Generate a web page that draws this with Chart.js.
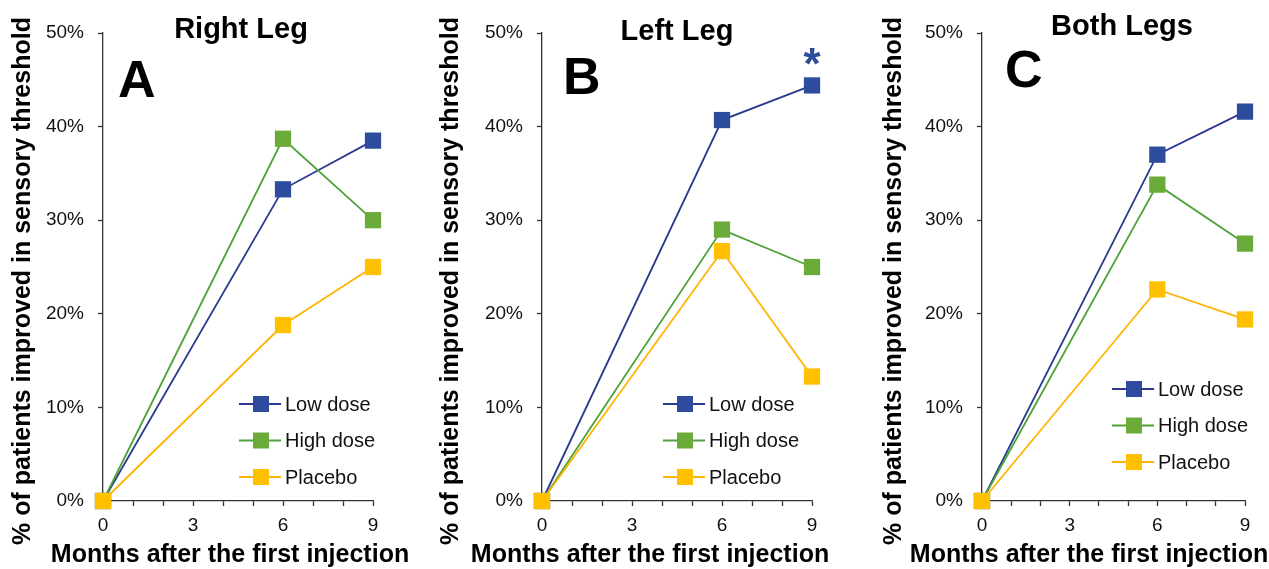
<!DOCTYPE html>
<html>
<head>
<meta charset="utf-8">
<script src="https://cdn.jsdelivr.net/npm/chart.js@4.4.0/dist/chart.umd.min.js"></script>
<style>
  html, body { margin: 0; padding: 0; background: #fff; }
  #wrap { position: relative; width: 1269px; height: 569px; overflow: hidden; }
  canvas { position: absolute; top: 0; }
</style>
</head>
<body>
<div id="wrap">
  <canvas id="chart-a" width="423" height="569" style="left:0"></canvas>
  <canvas id="chart-b" width="423" height="569" style="left:423px"></canvas>
  <canvas id="chart-c" width="423" height="569" style="left:846px"></canvas>
</div>
<script>
// data (% of patients improved)
const months = [0, 6, 9]
const seriesNames = ['Low dose', 'High dose', 'Placebo']

const rightLow = [0, 33.3, 38.5]
const rightHigh = [0, 38.7, 30.0]
const rightPlacebo = [0, 18.8, 25.0]

const leftLow = [0, 40.7, 44.4]
const leftHigh = [0, 29.0, 25.0]
const leftPlacebo = [0, 26.7, 13.3]

const bothLow = [0, 37.0, 41.6]
const bothHigh = [0, 33.8, 27.5]
const bothPlacebo = [0, 22.6, 19.4]

const xTickStep = 3
const yMax = 50

const yTitle = '% of patients improved in sensory threshold'
const xTitle = 'Months after the first injection'

const FONT = '"Liberation Sans", Arial, sans-serif'
const lineColors = ['#2B3A8F', '#4FA23A', '#FFB400']
const markColors = ['#2E4C9E', '#6AAB3A', '#FFC000']

//? draws titles, panel letter, legend and star on top of the chart
const panelText = {
    id: 'panelText',
    afterDraw(chart, args, o) {
        const ctx = chart.ctx
        ctx.save()
        ctx.fillStyle = '#000'

        ctx.font = 'bold 29px ' + FONT
        ctx.textAlign = 'center'
        ctx.textBaseline = 'alphabetic'
        ctx.fillText(o.title, o.titleX, o.titleY)

        ctx.font = 'bold 52px ' + FONT
        ctx.textAlign = 'left'
        ctx.fillText(o.letter, o.letterX, o.letterY)

        ctx.font = 'bold 25px ' + FONT
        ctx.textAlign = 'center'
        ctx.textBaseline = 'middle'
        ctx.fillText(xTitle, o.xTitleX, 555)

        ctx.save()
        ctx.translate(o.yTitleX, 281)
        ctx.rotate(-Math.PI / 2)
        ctx.fillText(yTitle, 0, 0)
        ctx.restore()

        // legend
        chart.data.datasets.forEach((ds, i) => {
            const y = o.legendY + i * 36.5
            ctx.strokeStyle = ds.borderColor
            ctx.lineWidth = 2
            ctx.beginPath()
            ctx.moveTo(o.legendX, y)
            ctx.lineTo(o.legendX + 42, y)
            ctx.stroke()
            ctx.fillStyle = ds.pointBackgroundColor
            ctx.fillRect(o.legendX + 14, y - 8, 16, 16)
            ctx.fillStyle = '#111'
            ctx.font = '20px ' + FONT
            ctx.textAlign = 'left'
            ctx.textBaseline = 'middle'
            ctx.fillText(ds.label, o.legendX + 46, y + 1)
        })

        if (o.star) {
            const xs = chart.scales.x
            ctx.fillStyle = markColors[0]
            ctx.font = 'bold 44px ' + FONT
            ctx.textAlign = 'center'
            ctx.textBaseline = 'alphabetic'
            ctx.fillText('*', xs.getPixelForValue(9), 79)
        }
        ctx.restore()
    }
}

function makeDatasets(low, high, placebo) {
    return [low, high, placebo].map((vals, i) => ({
        label: seriesNames[i],
        data: months.map((m, j) => ({ x: m, y: vals[j] })),
        borderColor: lineColors[i],
        borderWidth: 1.8,
        pointStyle: 'rect',
        pointRadius: 11.5,
        pointHoverRadius: 11.5,
        pointBackgroundColor: markColors[i],
        pointBorderColor: markColors[i],
        pointBorderWidth: 0,
        order: 3 - i,
        clip: false
    }))
}

function makeChart(id, datasets, axisLeft, plotRight, text) {
    return new Chart(document.getElementById(id), {
        type: 'line',
        data: { datasets: datasets },
        options: {
            responsive: false,
            animation: false,
            layout: { padding: { left: 0, right: 423 - plotRight, top: 33, bottom: 0 } },
            plugins: {
                legend: { display: false },
                tooltip: { enabled: false },
                panelText: text
            },
            scales: {
                x: {
                    type: 'linear',
                    min: 0,
                    max: 9,
                    afterFit: s => { s.height = 68 },
                    border: { color: '#333', width: 1.3 },
                    grid: { drawOnChartArea: false, tickLength: 5, color: '#333', tickWidth: 1.3 },
                    ticks: {
                        stepSize: 1,
                        autoSkip: false,
                        maxRotation: 0,
                        padding: 8,
                        color: '#111',
                        font: { family: FONT, size: 19 },
                        callback: v => (v % xTickStep === 0 ? v : '')
                    }
                },
                y: {
                    min: 0,
                    max: yMax,
                    afterFit: s => { s.width = axisLeft },
                    border: { color: '#333', width: 1.3 },
                    grid: { drawOnChartArea: false, tickLength: 5, color: '#333', tickWidth: 1.3 },
                    ticks: {
                        stepSize: 10,
                        padding: 14,
                        color: '#111',
                        font: { family: FONT, size: 19 },
                        callback: v => v + '%'
                    }
                }
            }
        },
        plugins: [panelText]
    })
}

const chartA = makeChart('chart-a', makeDatasets(rightLow, rightHigh, rightPlacebo), 103, 373, {
    title: 'Right Leg', titleX: 241, titleY: 38,
    letter: 'A', letterX: 118, letterY: 97,
    yTitleX: 23, xTitleX: 230,
    legendX: 239, legendY: 404
})

const chartB = makeChart('chart-b', makeDatasets(leftLow, leftHigh, leftPlacebo), 119, 389, {
    title: 'Left Leg', titleX: 254, titleY: 40,
    letter: 'B', letterX: 140, letterY: 94,
    yTitleX: 28, xTitleX: 227,
    legendX: 240, legendY: 404, star: true
})

const chartC = makeChart('chart-c', makeDatasets(bothLow, bothHigh, bothPlacebo), 136, 399, {
    title: 'Both Legs', titleX: 276, titleY: 35,
    letter: 'C', letterX: 159, letterY: 87,
    yTitleX: 48, xTitleX: 243,
    legendX: 266, legendY: 389
})
</script>
</body>
</html>
